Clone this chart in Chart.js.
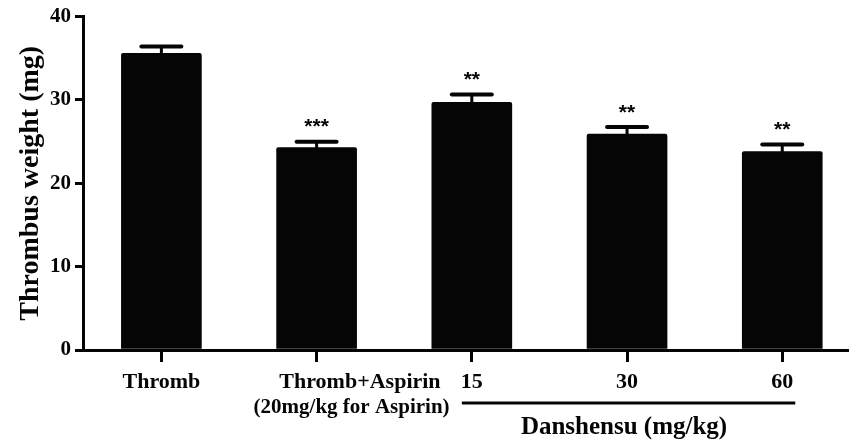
<!DOCTYPE html>
<html>
<head>
<meta charset="utf-8">
<script src="https://cdn.jsdelivr.net/npm/chart.js@4/dist/chart.umd.min.js"></script>
<style>
  html, body { margin: 0; padding: 0; background: #fff; }
  #wrap { position: relative; width: 849px; height: 442px; }
</style>
</head>
<body>
<div id="wrap"><canvas id="chart"></canvas></div>
<script>
// data
const groups = ['Thromb', 'Thromb+Aspirin', '15', '30', '60'];
const means = [35.6, 24.3, 29.7, 25.9, 23.8];
const sems = [0.8, 0.7, 0.95, 0.85, 0.85];
const stars = ['', '***', '**', '**', '**'];
const yTicks = [0, 10, 20, 30, 40];
const xTicks = [0, 1, 2, 3, 4];

const SERIF = "'Liberation Serif', 'Times New Roman', serif";

// error bars, asterisks, axis title and the custom x labels
const extras = {
    id: 'extras',
    afterDatasetsDraw(chart) {
        const ctx = chart.ctx;
        const x = chart.scales.x, y = chart.scales.y;
        ctx.save();
        ctx.strokeStyle = '#050505';
        ctx.fillStyle = '#050505';
        ctx.lineCap = 'round';
        means.forEach((m, i) => {
            const px = x.getPixelForValue(i);
            const top = y.getPixelForValue(m);
            const capY = y.getPixelForValue(m + sems[i]);
            ctx.lineWidth = 3;
            ctx.beginPath(); ctx.moveTo(px, top); ctx.lineTo(px, capY); ctx.stroke();
            ctx.lineWidth = 4;
            ctx.beginPath(); ctx.moveTo(px - 20, capY); ctx.lineTo(px + 20, capY); ctx.stroke();
            if (stars[i]) {
                ctx.font = "bold 21px 'Liberation Sans', Arial, sans-serif";
                ctx.textAlign = 'center';
                ctx.textBaseline = 'middle';
                ctx.fillText(stars[i], px, capY - 14);
            }
        });
        ctx.restore();
    },
    afterDraw(chart) {
        const ctx = chart.ctx;
        const x = chart.scales.x;
        const area = chart.chartArea;
        ctx.save();
        ctx.fillStyle = '#050505';
        ctx.strokeStyle = '#050505';

        // y axis title
        ctx.save();
        ctx.translate(31, (area.top + area.bottom) / 2);
        ctx.rotate(-Math.PI / 2);
        ctx.font = 'bold 28px ' + SERIF;
        ctx.textAlign = 'center';
        ctx.textBaseline = 'middle';
        ctx.fillText('Thrombus weight (mg)', 0, 0);
        ctx.restore();

        // x labels
        ctx.font = 'bold 22px ' + SERIF;
        ctx.textBaseline = 'middle';
        ctx.textAlign = 'center';
        ctx.fillText(groups[0], x.getPixelForValue(0), 382);
        ctx.fillText(groups[2], x.getPixelForValue(2), 382);
        ctx.fillText(groups[3], x.getPixelForValue(3), 382);
        ctx.fillText(groups[4], x.getPixelForValue(4), 382);
        ctx.textAlign = 'right';
        ctx.fillText(groups[1], x.getPixelForValue(1) + 124, 382);
        ctx.font = 'bold 21px ' + SERIF;
        ctx.fillText('(20mg/kg for Aspirin)', x.getPixelForValue(1) + 133, 408);

        // Danshensu bracket
        const x0 = x.getPixelForValue(2) - 10, x1 = x.getPixelForValue(4) + 13;
        ctx.lineWidth = 3;
        ctx.beginPath(); ctx.moveTo(x0, 403); ctx.lineTo(x1, 403); ctx.stroke();
        ctx.font = 'bold 25px ' + SERIF;
        ctx.textAlign = 'center';
        ctx.fillText('Danshensu (mg/kg)', (x.getPixelForValue(2) + x.getPixelForValue(4)) / 2 - 3, 428);
        ctx.restore();
    }
};

new Chart(document.getElementById('chart'), {
    type: 'bar',
    data: {
        datasets: [{
            data: means.map((m, i) => ({ x: i, y: m })),
            backgroundColor: '#050505',
            borderWidth: 0,
            borderRadius: 2,
            barThickness: 80
        }]
    },
    options: {
        responsive: true,
        maintainAspectRatio: false,
        animation: false,
        devicePixelRatio: 1,
        layout: { padding: { top: 16, right: 0, left: 0, bottom: 0 } },
        plugins: { legend: { display: false }, tooltip: { enabled: false } },
        scales: {
            x: {
                type: 'linear',
                offset: false,
                min: -0.505,
                max: 4.43,
                afterFit: s => { s.height = 92; },
                afterBuildTicks: s => { s.ticks = xTicks.map(v => ({ value: v })); },
                ticks: { display: false },
                grid: { offset: false, drawOnChartArea: false, drawTicks: true, tickLength: 12, color: '#050505', lineWidth: 3 },
                border: { display: true, color: '#050505', width: 3 }
            },
            y: {
                min: 0,
                max: 40,
                afterFit: s => { s.width = 83; },
                afterBuildTicks: s => { s.ticks = yTicks.map(v => ({ value: v })); },
                ticks: { color: '#050505', padding: 4, font: { family: SERIF, size: 21, weight: 'bold' } },
                grid: { drawOnChartArea: false, drawTicks: true, tickLength: 8, color: '#050505', lineWidth: 3 },
                border: { display: true, color: '#050505', width: 3 }
            }
        }
    },
    plugins: [extras]
});
</script>
</body>
</html>
